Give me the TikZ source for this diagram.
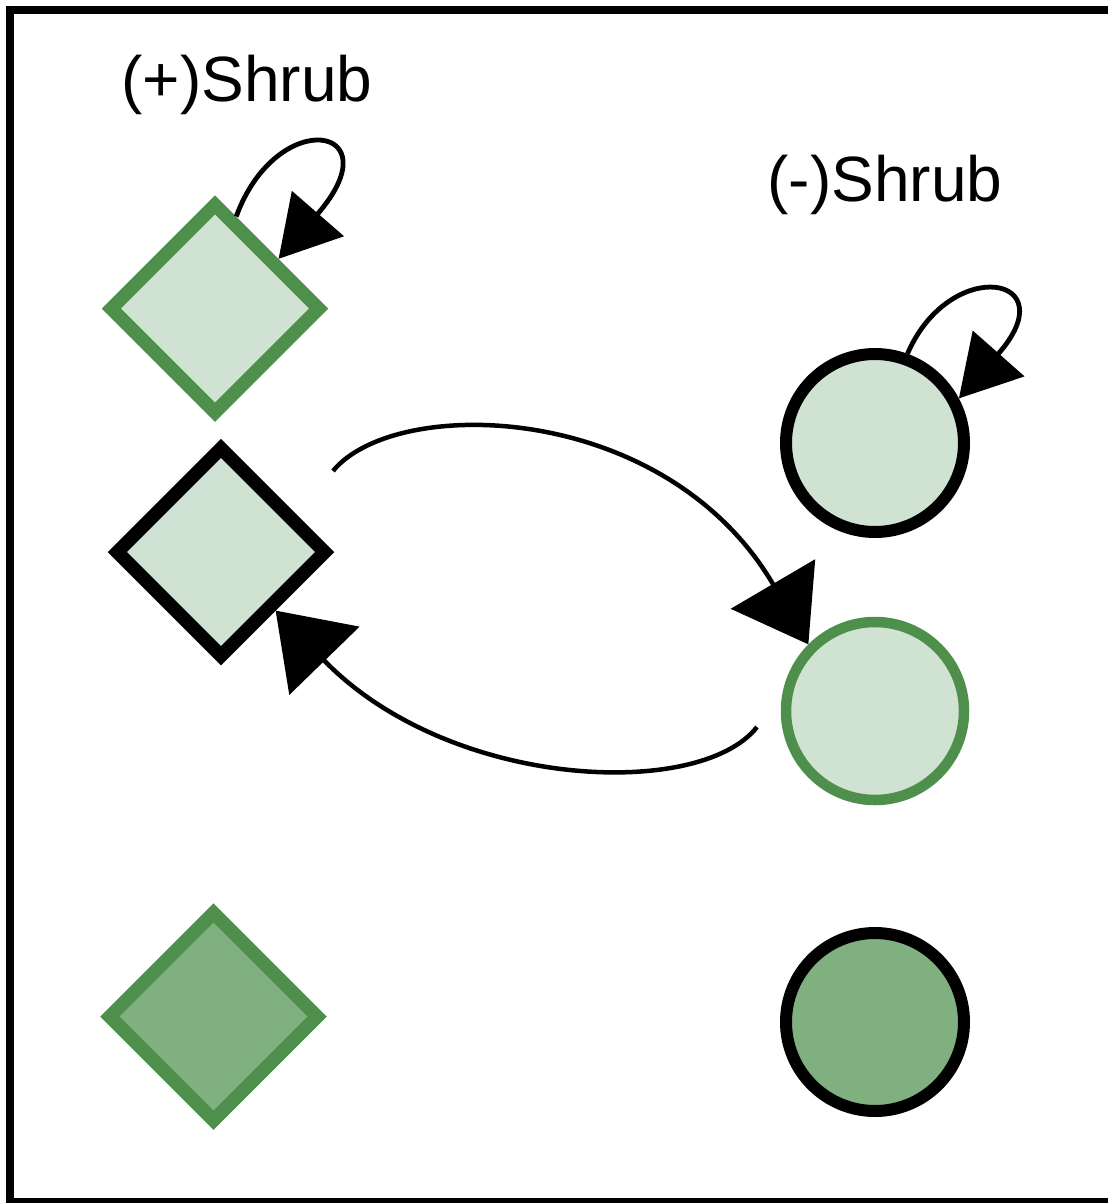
\documentclass[tikz,border=0pt]{standalone}
\usepackage{fontspec}
\setmainfont{Liberation Sans}
\usetikzlibrary{shapes.geometric,arrows.meta}
\definecolor{lightfill}{HTML}{D0E2D2}
\definecolor{darkfill}{HTML}{80AF80}
\definecolor{greenline}{HTML}{4E8F4C}
\tikzset{
  dia/.style={diamond, minimum width=213pt, minimum height=213pt, inner sep=0pt, line width=13.5pt, aspect=1},
  circ/.style={circle, minimum size=178pt, inner sep=0pt, line width=12pt},
  green outline/.style={draw=greenline},
  black outline/.style={draw=black},
  loopconn/.style={line width=4.8pt, -{Triangle[length=60pt,width=68pt]}},
  conn/.style={line width=4.5pt, -{Triangle[length=70pt,width=97pt]}},
  lab/.style={font=\fontsize{64pt}{70pt}\selectfont, anchor=base, inner sep=0pt}
}
\begin{document}
\begin{tikzpicture}[x=1pt,y=-1pt]
\useasboundingbox (0,0) rectangle (1108,1203);
\draw[line width=8pt] (10,10) rectangle (1114,1202);

\node[lab] (lp) at (247,101) {(+)Shrub};
\node[lab] (lm) at (885,201) {(-)Shrub};

\node[dia, fill=lightfill, green outline] (d1) at (215,308.5) {};
\node[dia, fill=lightfill, black outline] (d2) at (221,552) {};
\node[dia, fill=darkfill, green outline] (d3) at (213.5,1016.5) {};

\node[circ, fill=lightfill, black outline] (c1) at (875,443) {};
\node[circ, fill=lightfill, green outline, line width=10.5pt] (c2) at (875,711) {};
\node[circ, fill=darkfill, black outline] (c3) at (875,1022) {};

\coordinate (s1) at (333,471);
\coordinate (s2) at (757,727);

% self loops
\draw[loopconn] (d1.77) .. controls (277,105) and (395,125) .. (d1.38);
\draw[loopconn] (c1.70) .. controls (950,255) and (1068,275) .. (c1.28);

% curved connectors
\draw[conn] (s1) .. controls (395,395) and (665,400) .. (c2.135);
\draw[conn] (s2) .. controls (700,800) and (450,790) .. (d2.-47);
\end{tikzpicture}
\end{document}
